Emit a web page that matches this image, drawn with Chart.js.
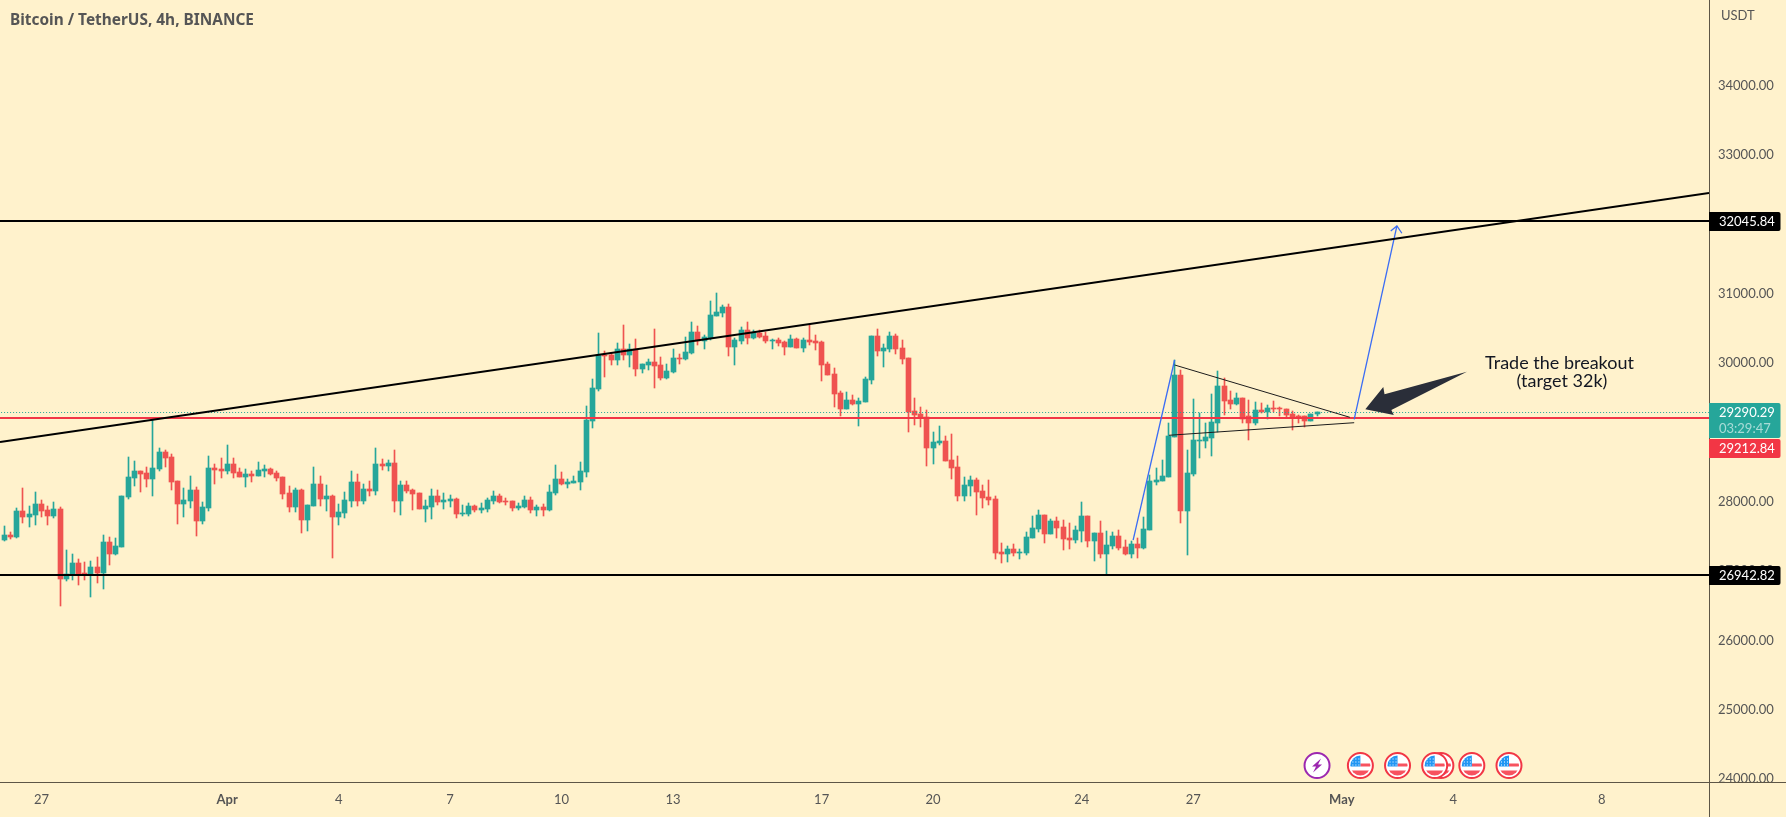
<!DOCTYPE html>
<html>
<head>
<meta charset="utf-8">
<title>Bitcoin / TetherUS, 4h, BINANCE</title>
<style>
html, body { margin: 0; padding: 0; background: #fff2cc; overflow: hidden; }
canvas { display: block; }
</style>
<script src="https://cdn.jsdelivr.net/npm/chart.js@4"></script>
</head>
<body>
<canvas id="btc-chart" width="1786" height="817"></canvas>
<script>
// --- CANDLES (4h bars) ---
const opens = [27448,27520,27491,27866,27779,27808,27966,27880,27793,27894,26885,26943,27116,26972,26943,27058,26972,27419,27246,27347,
28067,28341,28442,28413,28327,28471,28716,28644,28298,27966,28010,28168,27721,27909,28485,28471,28442,28543,28428,28356,
28399,28370,28442,28471,28413,28356,28125,27923,28168,27736,27938,28255,28039,28082,27779,27837,28010,28284,28010,28183,
28154,28543,28514,28557,28010,28240,28168,28125,27894,27923,28082,27995,28010,28039,27822,27822,27938,27880,27894,28010,
28082,28010,28010,27909,27923,28024,27880,27923,27880,28125,28327,28255,28269,28284,28428,29163,29624,30114,30114,30042,
30201,30114,30201,29913,29970,30013,29970,29783,29869,30071,30057,30143,30446,30316,30359,30677,30720,30806,30230,30316,
30475,30359,30431,30388,30316,30331,30302,30230,30345,30215,30331,30316,30302,29985,29840,29567,29336,29466,29408,29437,
29754,30388,30172,30201,30388,30215,30071,29307,29264,29221,28774,28846,28875,28601,28500,28082,28226,28312,28154,28067,
28039,27275,27246,27318,27260,27260,27476,27606,27808,27534,27721,27635,27476,27448,27577,27793,27433,27548,27246,27361,
27505,27347,27246,27390,27332,27592,28284,28298,28356,28932,29826,27866,28399,28875,28875,28918,29134,29667,29466,29408,
29494,29235,29134,29322,29293,29350,29350,29336,29264,29235,29235,29163,29264];
const highs = [27649,27563,27909,28197,27938,28139,28024,27938,27995,27923,27303,27246,27174,27130,27145,27202,27520,27491,27476,28082,
28644,28586,28442,28500,29177,28774,28745,28687,28298,28197,28370,28212,27995,28658,28543,28630,28817,28630,28485,28471,
28442,28572,28529,28485,28442,28356,28226,28197,28183,27952,28500,28370,28240,28096,27966,28139,28442,28399,28255,28298,
28774,28615,28601,28745,28298,28298,28183,28125,28024,28183,28168,28125,28096,28053,27952,27981,27952,27981,28053,28154,
28111,28053,28010,27981,28082,28067,27952,27966,28240,28529,28428,28327,28370,28572,29379,29768,30431,30172,30143,30287,
30547,30273,30345,29985,30057,30489,30086,29985,30201,30129,30374,30590,30532,30403,30893,31008,30835,30850,30359,30518,
30590,30475,30475,30446,30345,30359,30316,30403,30359,30359,30547,30403,30316,30013,29927,29595,29581,29538,29494,29797,
30388,30489,30273,30446,30417,30331,30071,29494,29365,29322,29004,29091,28947,28976,28658,28356,28370,28341,28240,28312,
28082,27404,27361,27390,27318,27563,27793,27880,27808,27750,27779,27736,27693,27649,27995,27793,27548,27721,27577,27563,
27592,27448,27433,27476,27779,28385,28485,28601,29134,30042,29898,28745,29480,29278,29134,29552,29884,29783,29595,29567,
29494,29466,29437,29422,29394,29451,29365,29336,29307,29249,29235,29264,29293];
const lows = [27433,27462,27476,27693,27635,27664,27779,27664,27765,26496,26857,26871,26799,26871,26626,26828,26741,27087,27231,27347,
28039,28226,28139,28212,28082,28442,28500,28168,27678,27779,27909,27505,27678,27866,28255,28341,28399,28341,28356,28212,
28284,28370,28356,28385,28298,28039,27851,27851,27548,27577,27938,27938,27866,27188,27664,27765,27923,27938,27966,28082,
28096,28457,28442,27851,27808,28125,27880,27894,27707,27750,27952,27894,27923,27765,27793,27793,27851,27837,27851,27966,
27981,27952,27866,27880,27909,27837,27793,27793,27866,28096,28240,28197,28269,28168,28356,29062,29595,29797,29970,29970,
30042,29941,29812,29855,29898,29639,29754,29768,29855,29985,30042,30129,30259,30201,30331,30677,30662,30100,29970,30273,
30273,30345,30359,30287,30201,30244,30114,30230,30215,30158,30259,30186,29740,29826,29365,29235,29336,29394,29091,29437,
29696,30100,29941,30158,30129,29985,29004,29105,29076,28514,28543,28817,28586,28327,28010,28010,28082,27808,27909,27952,
27174,27116,27130,27217,27174,27231,27476,27563,27404,27534,27476,27303,27318,27404,27419,27347,27145,27188,26943,27318,
27303,27231,27188,27188,27318,27592,28240,28298,28356,28932,27693,27231,28370,28630,28774,28658,29004,29249,29336,29394,
29134,28889,29105,29278,29192,29293,29235,29221,29033,29134,29076,29163,29235];
const closes = [27520,27491,27866,27779,27822,27966,27866,27793,27894,26885,26957,27116,26943,26943,27058,26972,27419,27246,27361,28082,
28356,28442,28399,28327,28485,28716,28630,28284,27966,28024,28168,27721,27923,28485,28457,28442,28543,28413,28356,28399,
28370,28457,28471,28399,28341,28111,27923,28168,27736,27952,28255,28039,28082,27779,27851,28024,28284,28010,28183,28154,
28543,28514,28557,28010,28240,28154,28111,27894,27938,28082,27995,28024,28039,27822,27837,27938,27880,27909,28024,28082,
27995,27995,27909,27938,28024,27880,27923,27880,28139,28327,28255,28284,28298,28442,29177,29639,30114,30100,30042,30201,
30114,30201,29913,29985,30013,29956,29783,29884,30071,30057,30158,30446,30316,30374,30691,30734,30806,30230,30331,30475,
30359,30431,30374,30316,30331,30287,30230,30345,30215,30331,30302,30287,29970,29826,29552,29336,29466,29408,29451,29768,
30388,30172,30215,30388,30201,30057,29293,29249,29206,28774,28860,28875,28586,28485,28082,28240,28312,28139,28053,28024,
27260,27246,27318,27260,27275,27491,27620,27808,27534,27721,27620,27462,27448,27592,27793,27433,27548,27246,27375,27505,
27332,27246,27390,27332,27606,28298,28312,28370,28947,29826,27866,28413,28889,28889,28932,29149,29667,29451,29408,29494,
29192,29134,29322,29293,29350,29336,29336,29249,29206,29206,29163,29264,29293];

// --- AXES ---
const priceTicks = [24000,25000,26000,27000,28000,29000,30000,31000,32000,33000,34000];
const timeTicks = [6,36,54,72,90,108,132,150,174,192,216,234,258];
const timeLabels = ['27','Apr','4','7','10','13','17','20','24','27','May','4','8'];
const monthLabels = ['Apr','May'];

// --- DRAWINGS (bar index / price) ---
const resistanceLevel = 32045.84;
const supportLevel = 26942.82;
const alertLevel = 29212.84;
const lastPrice = 29290.29;
const trendX = [-0.69, 275.3],        trendY = [28860, 32449];
const triTopX = [189, 217.3],         triTopY = [29970, 29216];
const triBottomX = [188.1, 218],      triBottomY = [28957, 29138];
const moveX = [182.3, 189],           moveY = [27447, 30042];
const projX = [218, 224.9],           projY = [29187, 31974];
const headX = [223.9, 224.9, 225.7],  headY = [31902, 31974, 31869];
const bigArrowX = [236.2, 222.9, 222.7, 219.8, 224.4, 224.0];
const bigArrowY = [29874, 29548, 29653, 29332, 29249, 29321];
const econEvents = [219, 225, 232, 231, 237, 243];
const otherEvents = [212];

const BG = '#fff2cc', UP = '#26a69a', DOWN = '#ef5350', AXIS = '#5d5646', TEXT = '#555555';
const FONT = 'Lato, "Open Sans", sans-serif';

function pts(xs, ys) { return xs.map((x, i) => ({ x: x, y: ys[i] })); }
function level(v) { return [{ x: -1, y: v }, { x: 276, y: v }]; }
function lineSet(data, color, width, dash) {
    return { type: 'line', data: data, borderColor: color, borderWidth: width, borderDash: dash || [],
             pointRadius: 0, tension: 0, fill: false, order: 0 };
}
function levelSet(v, color, width, dash) {
    const ds = lineSet(level(v), color, width, dash);
    ds.isLevel = true;
    return ds;
}
const candleColors = closes.map((c, i) => c >= opens[i] ? UP : DOWN);

// --- OVERLAY ---
// snap bars and horizontal levels to whole pixels, so they stay sharp
function crispMarks(chart) {
    chart.data.datasets.forEach((ds, d) => {
        const els = chart.getDatasetMeta(d).data;
        if (ds.isLevel) {
            const odd = ds.borderWidth % 2 === 1 ? 0.5 : 0;
            els.forEach(el => { el.y = Math.round(el.y - odd) + odd; });
        } else if (ds.type !== 'line') {
            els.forEach(el => {
                el.x = Math.round(el.x - 0.5) + 0.5;
                el.y = Math.round(el.y);
                el.base = Math.round(el.base);
            });
        }
    });
}

function tag(ctx, x, y, w, h, color) {
    ctx.fillStyle = color;
    ctx.beginPath();
    ctx.roundRect(x, y, w, h, [0, 2, 2, 0]);
    ctx.fill();
}

function drawFlag(ctx, cx, cy) {
    ctx.save();
    ctx.beginPath(); ctx.arc(cx, cy, 12.5, 0, Math.PI * 2);
    ctx.fillStyle = '#ffffff'; ctx.fill();
    ctx.lineWidth = 2; ctx.strokeStyle = '#f23645'; ctx.stroke();
    ctx.beginPath(); ctx.arc(cx, cy, 10, 0, Math.PI * 2); ctx.clip();
    ctx.fillStyle = '#f7525f';
    ctx.fillRect(cx, cy - 2, 11, 3);
    ctx.fillRect(cx - 11, cy + 5, 22, 6);
    ctx.fillStyle = '#2196f3';
    ctx.fillRect(cx - 11, cy - 11, 11, 12);
    ctx.fillStyle = '#ffffff';
    for (let a = 0; a < 3; a++) for (let b = 0; b < 3; b++) ctx.fillRect(cx - 8 + a * 3, cy - 7 + b * 3, 1, 1);
    ctx.restore();
}

function drawBolt(ctx, cx, cy) {
    ctx.beginPath(); ctx.arc(cx, cy, 12.5, 0, Math.PI * 2);
    ctx.fillStyle = '#ffffff'; ctx.fill();
    ctx.lineWidth = 2; ctx.strokeStyle = '#9c27b0'; ctx.stroke();
    ctx.fillStyle = '#9c27b0';
    ctx.beginPath();
    ctx.moveTo(cx + 4, cy - 7); ctx.lineTo(cx - 5, cy + 1); ctx.lineTo(cx - 1, cy + 1);
    ctx.lineTo(cx - 4, cy + 7); ctx.lineTo(cx + 5, cy - 1); ctx.lineTo(cx + 1, cy - 1);
    ctx.closePath(); ctx.fill();
}

const overlayPlugin = {
    id: 'overlay',
    beforeDatasetsDraw: crispMarks,
    afterDraw(chart) {
        const ctx = chart.ctx, x = chart.scales.x, y = chart.scales.y;
        const right = chart.chartArea.right, bottom = chart.chartArea.bottom;
        ctx.save();

        // thick arrow pointing at the apex
        ctx.fillStyle = '#2a2e39';
        ctx.beginPath();
        bigArrowX.forEach((v, i) => ctx.lineTo(x.getPixelForValue(v), y.getPixelForValue(bigArrowY[i])));
        ctx.closePath(); ctx.fill();

        // event icons
        const iconY = 765.5;
        otherEvents.forEach(v => drawBolt(ctx, x.getPixelForValue(v), iconY));
        econEvents.forEach(v => drawFlag(ctx, x.getPixelForValue(v), iconY));

        // the price scale is cut off at the time axis
        ctx.fillStyle = BG;
        ctx.fillRect(right, bottom, 1786 - right, 817 - bottom);
        ctx.strokeStyle = AXIS; ctx.lineWidth = 1;
        ctx.beginPath();
        ctx.moveTo(right + 0.5, 0); ctx.lineTo(right + 0.5, 817);
        ctx.moveTo(0, bottom + 0.5); ctx.lineTo(1786, bottom + 0.5);
        ctx.stroke();

        // title and axis unit
        ctx.textBaseline = 'middle'; ctx.textAlign = 'left';
        ctx.fillStyle = TEXT;
        ctx.font = 'bold 15.4px "Noto Sans", sans-serif';
        ctx.fillText('Bitcoin / TetherUS, 4h, BINANCE', 10, 20.5);
        ctx.font = '13px ' + FONT;
        ctx.fillText('USDT', 1721, 16);

        // annotation
        ctx.fillStyle = '#131722'; ctx.textAlign = 'center';
        ctx.font = '18px ' + FONT;
        ctx.fillText('Trade the breakout', 1559.5, 363);
        ctx.fillText('(target 32k)', 1562, 381);

        // price tags
        ctx.textAlign = 'left'; ctx.font = '13px ' + FONT;
        [resistanceLevel, supportLevel].forEach(v => {
            const py = Math.round(y.getPixelForValue(v));
            tag(ctx, right, py - 9, 71.5, 19, '#000000');
            ctx.fillStyle = '#ffffff';
            ctx.fillText(v.toFixed(2), 1719, py + 0.5);
        });
        const lastY = Math.round(y.getPixelForValue(lastPrice));
        tag(ctx, right, lastY - 9, 71.5, 35, UP);
        ctx.fillStyle = '#ffffff';
        ctx.fillText(lastPrice.toFixed(2), 1719, lastY + 1);
        ctx.fillStyle = 'rgba(255,255,255,0.6)';
        ctx.fillText('03:29:47', 1719, lastY + 17);
        tag(ctx, right, lastY + 27, 71.5, 19, '#f23645');
        ctx.fillStyle = '#ffffff';
        ctx.fillText(alertLevel.toFixed(2), 1719, lastY + 37);
        ctx.restore();
    }
};

// --- CHART INITIALIZATION ---
document.addEventListener('DOMContentLoaded', function() {
    const ctx = document.getElementById('btc-chart').getContext('2d');
    new Chart(ctx, {
        type: 'bar',
        data: {
            datasets: [
                levelSet(resistanceLevel, '#000000', 2),
                levelSet(supportLevel, '#000000', 2),
                lineSet(pts(trendX, trendY), '#000000', 2),
                lineSet(pts(triTopX, triTopY), '#1c1c1c', 1),
                lineSet(pts(triBottomX, triBottomY), '#1c1c1c', 1),
                lineSet(pts(moveX, moveY), '#3a6cf4', 1.3),
                lineSet(pts(projX, projY), '#3a6cf4', 1.3),
                lineSet(pts(headX, headY), '#3a6cf4', 1.3),
                levelSet(alertLevel, '#f23645', 2),
                levelSet(lastPrice, UP, 1, [1, 2]),
                { data: closes.map((c, i) => ({ x: i, y: [opens[i], c] })), backgroundColor: candleColors,
                  barThickness: 5, minBarLength: 1, grouped: false, borderSkipped: false, borderWidth: 0, order: 1 },
                { data: closes.map((c, i) => ({ x: i, y: [lows[i], highs[i]] })), backgroundColor: candleColors,
                  barThickness: 1, grouped: false, borderSkipped: false, borderWidth: 0, order: 2 }
            ]
        },
        options: {
            responsive: false,
            animation: false,
            events: [],
            layout: { padding: 0 },
            plugins: { legend: { display: false }, tooltip: { enabled: false } },
            scales: {
                x: {
                    type: 'linear', min: -0.694, max: 275.3, offset: false,
                    grid: { display: false, drawTicks: false, offset: false },
                    border: { color: AXIS },
                    afterBuildTicks(scale) { scale.ticks = timeTicks.map(v => ({ value: v })); },
                    afterFit(scale) { scale.height = 35; scale.paddingLeft = 0; scale.paddingRight = 0; },
                    ticks: {
                        autoSkip: false, maxRotation: 0, padding: 10, color: TEXT,
                        font: c => ({ family: FONT, size: 13,
                            weight: c.tick && monthLabels.includes(c.tick.label) ? 'bold' : 'normal' }),
                        callback: v => timeLabels[timeTicks.indexOf(v)]
                    }
                },
                y: {
                    type: 'linear', position: 'right', min: 23958.9, max: 35231.4,
                    grid: { display: false, drawTicks: false },
                    border: { color: AXIS },
                    afterBuildTicks(scale) { scale.ticks = priceTicks.map(v => ({ value: v })); },
                    afterFit(scale) { scale.width = 77; scale.paddingTop = 0; scale.paddingBottom = 0; },
                    ticks: {
                        padding: 9, color: TEXT, font: { family: FONT, size: 13 },
                        callback: v => v.toFixed(2)
                    }
                }
            }
        },
        plugins: [overlayPlugin]
    });
});
</script>
</body>
</html>
